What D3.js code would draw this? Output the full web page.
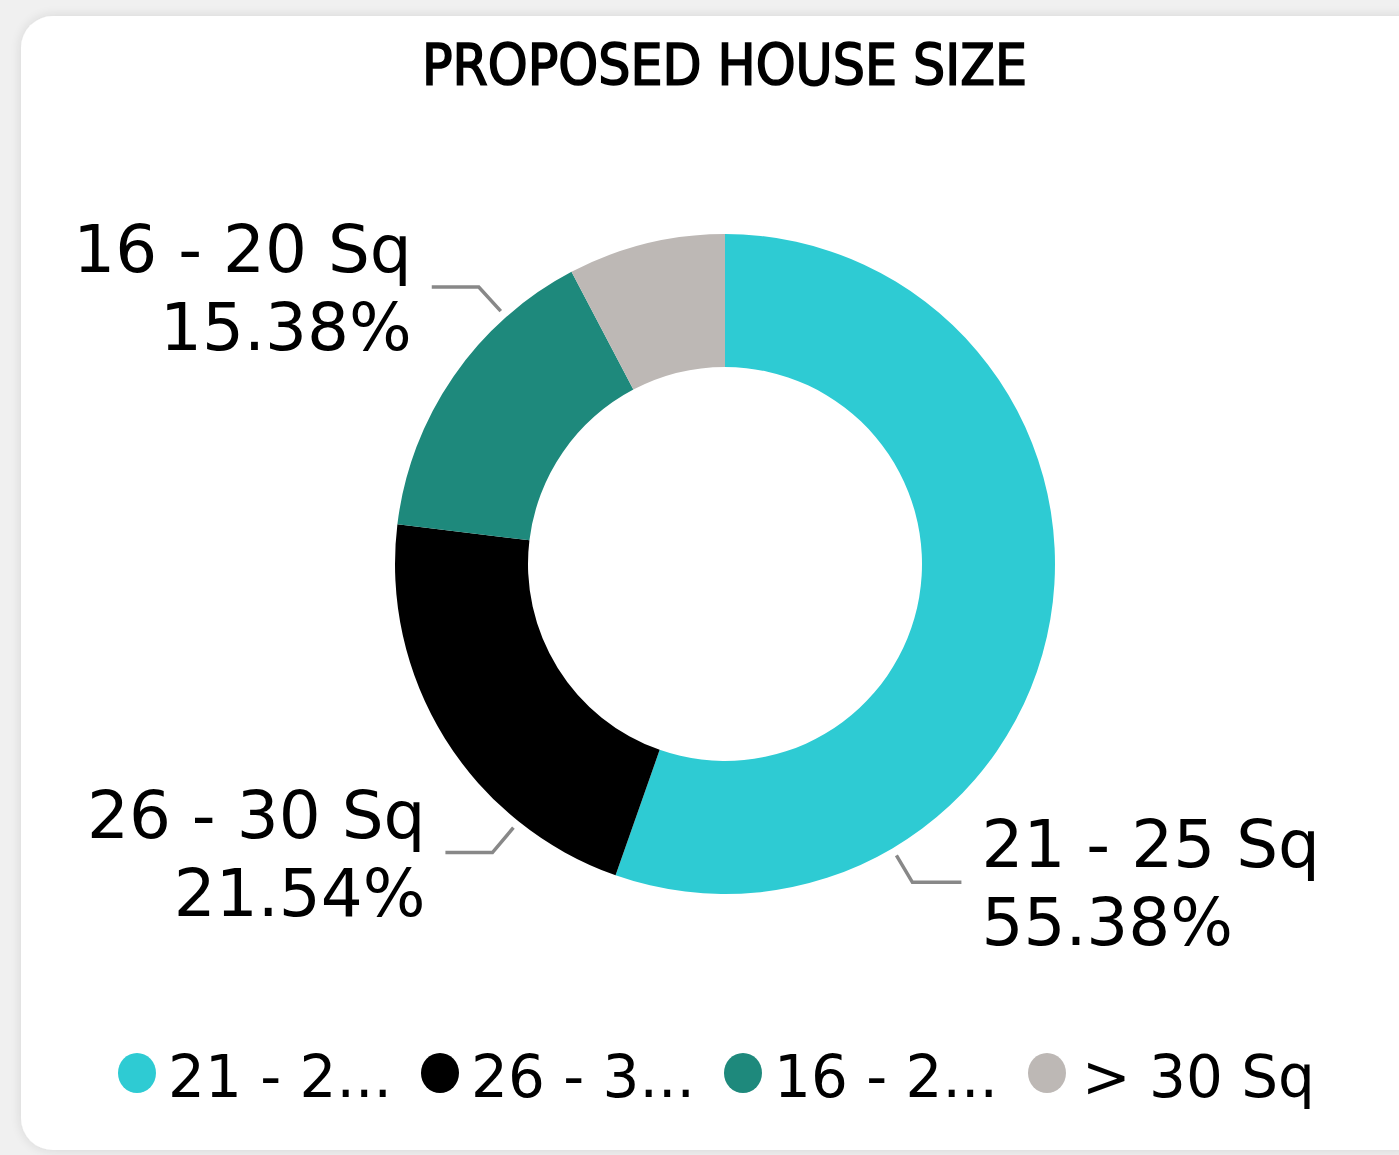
<!DOCTYPE html>
<html>
<head>
<meta charset="utf-8">
<script src="https://cdn.jsdelivr.net/npm/d3@7"></script>
<style>
  html, body { margin: 0; padding: 0; background: #f0f0f0; }
  svg { display: block; }
</style>
</head>
<body>
<svg id="chart_svg"></svg>
<script>
var width = 1399, height = 1155;

// data
var categories = ['21 - 25 Sq', '26 - 30 Sq', '16 - 20 Sq', '> 30 Sq'];
var shares = [55.38, 21.54, 15.38, 7.70];
var legendLabels = ['21 - 2...', '26 - 3...', '16 - 2...', '> 30 Sq'];
var colors = ['#2ecbd3', '#000000', '#1e897c', '#bdb8b5'];
var labelled = [true, true, true, false];

var cx = 725, cy = 564;
var outerR = 330, innerR = 197;

// where along each slice the leader starts, and which way it goes
var leader = [
  {frac: 0.75, dx: 16, dy: 27, len: 49, side: 1},
  {frac: 0.25, dx: -21, dy: 25, len: 47, side: -1},
  {frac: 0.75, dx: -22, dy: -24, len: 47, side: -1},
  null
];

var data = categories.map(function(c, i) {
  return {cat: c, value: shares[i], color: colors[i], legend: legendLabels[i], idx: i};
});

var svg = d3.select('#chart_svg')
  .attr('width', width)
  .attr('height', height);

var defs = svg.append('defs');
var f = defs.append('filter').attr('id', 'shadow')
  .attr('x', '-5%').attr('y', '-5%').attr('width', '110%').attr('height', '110%');
f.append('feGaussianBlur').attr('in', 'SourceAlpha').attr('stdDeviation', 6);
f.append('feOffset').attr('dx', 0).attr('dy', 0).attr('result', 'b');
f.append('feComponentTransfer').append('feFuncA').attr('type', 'linear').attr('slope', 0.12);
var m = f.append('feMerge');
m.append('feMergeNode');
m.append('feMergeNode').attr('in', 'SourceGraphic');

// card
svg.append('rect')
  .attr('x', 21)
  .attr('y', 16)
  .attr('width', 1410)
  .attr('height', 1134)
  .attr('rx', 32)
  .attr('fill', '#fff')
  .attr('filter', 'url(#shadow)');

svg.append('text')
  .attr('x', 724.5)
  .attr('y', 85)
  .attr('text-anchor', 'middle')
  .attr('textLength', 605)
  .attr('lengthAdjust', 'spacingAndGlyphs')
  .style('font-family', '"DejaVu Sans Condensed", "Liberation Sans Narrow", sans-serif')
  .style('font-size', '57px')
  .style('fill', '#000')
  .style('stroke', '#000')
  .style('stroke-width', 1.6)
  .text('PROPOSED HOUSE SIZE');

var pie = d3.pie()
  .sort(null)
  .value(function(d) { return d.value; });

var arc = d3.arc()
  .innerRadius(innerR)
  .outerRadius(outerR);

var arcs = pie(data);

var g = svg.append('g')
  .attr('transform', 'translate(' + cx + ',' + cy + ')');

g.selectAll('.slice')
  .data(arcs)
  .enter()
  .append('path')
  .attr('class', 'slice')
  .attr('d', arc)
  .attr('fill', function(d) { return d.data.color; });

// leader lines + labels
var labelFont = '"DejaVu Sans", Verdana, sans-serif';
arcs.forEach(function(a, i) {
  if (!labelled[i]) return;
  var L = leader[i];
  var ang = a.startAngle + (a.endAngle - a.startAngle) * L.frac;
  var r0 = outerR + 8;
  var x0 = Math.sin(ang) * r0, y0 = -Math.cos(ang) * r0;
  var x1 = x0 + L.dx, y1 = y0 + L.dy;
  var x2 = x1 + L.side * L.len;
  g.append('polyline')
    .attr('points', [[x0, y0], [x1, y1], [x2, y1]].join(' '))
    .attr('fill', 'none')
    .attr('stroke', '#888')
    .attr('stroke-width', 3.5);

  var tx = x2 + L.side * 20;
  var t = g.append('text')
    .attr('text-anchor', L.side > 0 ? 'start' : 'end')
    .style('font-family', labelFont)
    .style('font-size', '66px')
    .style('fill', '#000');
  t.append('tspan').attr('x', tx).attr('y', y1 - 15).text(a.data.cat);
  t.append('tspan').attr('x', tx).attr('y', y1 + 63).text(d3.format('.2f')(a.data.value) + '%');
});

// legend
var legendX = [137, 440, 743, 1047];
var leg = svg.append('g').attr('class', 'legend');
var items = leg.selectAll('.item')
  .data(data)
  .enter()
  .append('g')
  .attr('class', 'item')
  .attr('transform', function(d, i) { return 'translate(' + legendX[i] + ',1073)'; });

items.append('ellipse')
  .attr('rx', 19)
  .attr('ry', 20)
  .attr('fill', function(d) { return d.color; });

items.append('text')
  .attr('x', function(d, i) { return i === 3 ? 35 : 31; })
  .attr('y', 24)
  .style('font-family', labelFont)
  .style('font-size', '58px')
  .style('fill', '#000')
  .text(function(d) { return d.legend; });
</script>
</body>
</html>
